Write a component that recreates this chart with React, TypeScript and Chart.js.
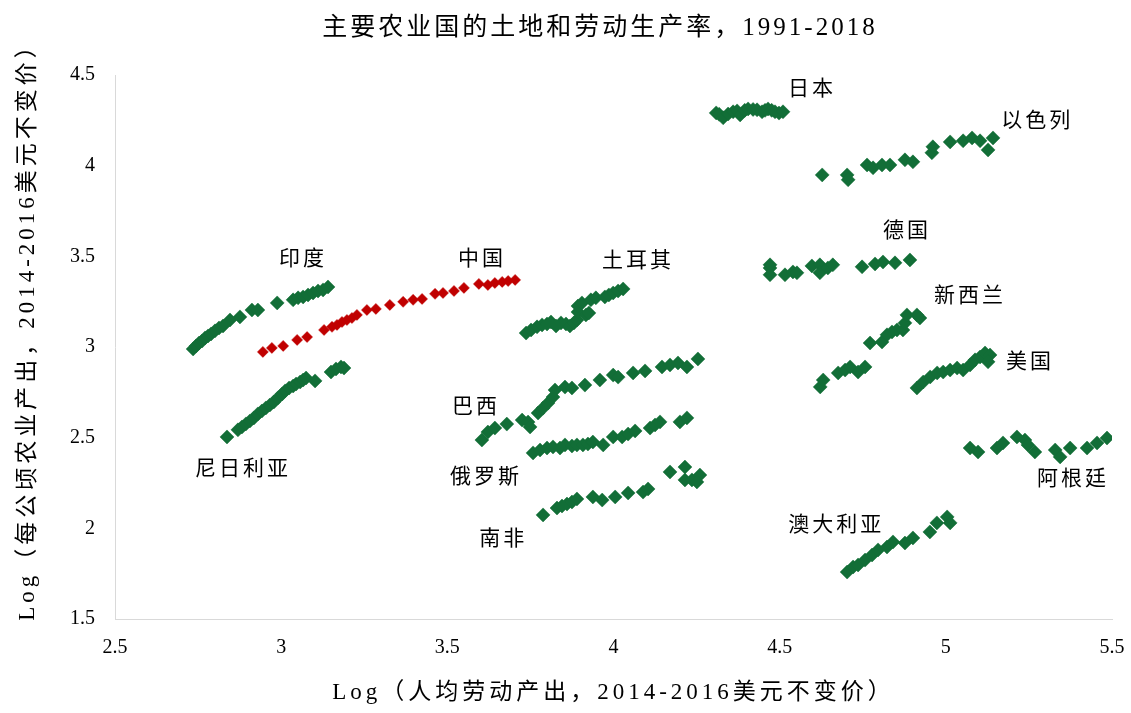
import React, { useEffect, useRef } from "react";
import { Chart, registerables } from "chart.js";

Chart.register(...registerables);

const FONT = "'Liberation Serif', 'Noto Sans CJK SC', serif";
const GREEN = "#126e37";
const RED = "#c00000";

const titleText = "主要农业国的土地和劳动生产率，1991-2018";
const xTitle = "Log（人均劳动产出，2014-2016美元不变价）";
const yTitle = "Log（每公顷农业产出，2014-2016美元不变价）";

const xTickValues = [2.5, 3, 3.5, 4, 4.5, 5, 5.5];
const xTickLabels = ["2.5", "3", "3.5", "4", "4.5", "5", "5.5"];
const yTickValues = [1.5, 2, 2.5, 3, 3.5, 4, 4.5];
const yTickLabels = ["1.5", "2", "2.5", "3", "3.5", "4", "4.5"];

// India
const indiaX = [2.735, 2.744, 2.753, 2.762, 2.771, 2.78, 2.789, 2.801, 2.813, 2.825, 2.846, 2.876, 2.912, 2.93, 2.988, 3.036, 3.051, 3.066, 3.081, 3.096, 3.111, 3.126, 3.141];
const indiaY = [2.989, 3.006, 3.022, 3.033, 3.05, 3.061, 3.072, 3.089, 3.105, 3.116, 3.149, 3.166, 3.204, 3.204, 3.243, 3.26, 3.271, 3.276, 3.287, 3.298, 3.309, 3.315, 3.331];

// China
const chinaX = [2.945, 2.972, 3.006, 3.048, 3.078, 3.129, 3.153, 3.168, 3.183, 3.198, 3.213, 3.228, 3.258, 3.285, 3.327, 3.367, 3.397, 3.424, 3.463, 3.487, 3.52, 3.55, 3.595, 3.622, 3.643, 3.665, 3.683, 3.704];
const chinaY = [2.973, 2.995, 3.006, 3.039, 3.055, 3.094, 3.111, 3.122, 3.138, 3.149, 3.16, 3.177, 3.204, 3.21, 3.232, 3.249, 3.26, 3.265, 3.293, 3.298, 3.309, 3.326, 3.348, 3.342, 3.353, 3.359, 3.364, 3.37];

// Nigeria
const nigeriaX = [2.837, 2.87, 2.882, 2.894, 2.906, 2.918, 2.93, 2.942, 2.954, 2.966, 2.978, 2.99, 3.003, 3.012, 3.024, 3.036, 3.045, 3.057, 3.066, 3.075, 3.102, 3.15, 3.165, 3.18, 3.189];
const nigeriaY = [2.504, 2.543, 2.559, 2.576, 2.592, 2.609, 2.631, 2.647, 2.664, 2.68, 2.697, 2.719, 2.741, 2.758, 2.774, 2.785, 2.796, 2.807, 2.818, 2.829, 2.813, 2.862, 2.879, 2.89, 2.884];

// Turkey
const turkeyX = [3.737, 3.752, 3.77, 3.785, 3.8, 3.812, 3.827, 3.842, 3.857, 3.869, 3.881, 3.89, 3.893, 3.893, 3.905, 3.917, 3.926, 3.932, 3.947, 3.974, 3.986, 3.999, 4.014, 4.029];
const turkeyY = [3.077, 3.094, 3.111, 3.122, 3.127, 3.138, 3.116, 3.133, 3.127, 3.116, 3.133, 3.149, 3.193, 3.226, 3.243, 3.177, 3.188, 3.26, 3.271, 3.276, 3.287, 3.298, 3.309, 3.32];

// Brazil
const brazilX = [3.604, 3.622, 3.643, 3.679, 3.725, 3.743, 3.749, 3.773, 3.788, 3.803, 3.818, 3.824, 3.854, 3.875, 3.914, 3.959, 3.999, 4.014, 4.059, 4.095, 4.146, 4.17, 4.194, 4.221, 4.254];
const brazilY = [2.487, 2.531, 2.553, 2.575, 2.597, 2.586, 2.559, 2.636, 2.663, 2.691, 2.724, 2.763, 2.779, 2.774, 2.79, 2.818, 2.845, 2.834, 2.857, 2.868, 2.89, 2.901, 2.912, 2.89, 2.934];

// Russia
const russiaX = [3.758, 3.779, 3.8, 3.818, 3.839, 3.854, 3.875, 3.89, 3.908, 3.923, 3.938, 3.969, 3.999, 4.026, 4.044, 4.065, 4.11, 4.125, 4.14, 4.2, 4.221];
const russiaY = [2.416, 2.432, 2.443, 2.449, 2.443, 2.46, 2.454, 2.46, 2.46, 2.465, 2.476, 2.46, 2.504, 2.504, 2.52, 2.537, 2.553, 2.57, 2.587, 2.587, 2.609];

// South Africa
const safricaX = [3.788, 3.83, 3.845, 3.86, 3.875, 3.89, 3.938, 3.966, 4.005, 4.044, 4.089, 4.104, 4.17, 4.215, 4.215, 4.236, 4.26, 4.251];
const safricaY = [2.074, 2.112, 2.123, 2.134, 2.145, 2.162, 2.173, 2.156, 2.173, 2.195, 2.2, 2.217, 2.311, 2.338, 2.267, 2.267, 2.294, 2.256];

// Japan
const japanX = [4.309, 4.318, 4.33, 4.345, 4.36, 4.372, 4.381, 4.395, 4.405, 4.42, 4.432, 4.447, 4.456, 4.465, 4.476, 4.486, 4.498, 4.51];
const japanY = [4.291, 4.283, 4.264, 4.285, 4.297, 4.302, 4.28, 4.305, 4.313, 4.31, 4.308, 4.297, 4.305, 4.313, 4.305, 4.297, 4.29, 4.297];

// Israel
const israelX = [4.628, 4.703, 4.706, 4.763, 4.781, 4.808, 4.832, 4.877, 4.901, 4.958, 4.961, 5.013, 5.052, 5.079, 5.103, 5.127, 5.142];
const israelY = [3.949, 3.949, 3.922, 4.004, 3.988, 4.004, 4.004, 4.032, 4.021, 4.071, 4.104, 4.131, 4.137, 4.153, 4.137, 4.087, 4.153];

// Germany
const germanyX = [4.471, 4.471, 4.471, 4.516, 4.54, 4.552, 4.597, 4.621, 4.621, 4.645, 4.66, 4.748, 4.787, 4.811, 4.847, 4.892];
const germanyY = [3.436, 3.398, 3.453, 3.398, 3.414, 3.409, 3.447, 3.453, 3.409, 3.436, 3.453, 3.442, 3.458, 3.469, 3.464, 3.48];

// New Zealand
const nzX = [4.622, 4.631, 4.676, 4.697, 4.712, 4.736, 4.757, 4.772, 4.808, 4.823, 4.838, 4.853, 4.871, 4.877, 4.883, 4.913, 4.922];
const nzY = [2.78, 2.818, 2.857, 2.873, 2.89, 2.862, 2.89, 3.022, 3.028, 3.067, 3.083, 3.094, 3.094, 3.133, 3.177, 3.177, 3.16];

// USA
const usaX = [4.913, 4.932, 4.953, 4.974, 4.992, 5.013, 5.034, 5.052, 5.073, 5.088, 5.103, 5.118, 5.133, 5.127];
const usaY = [2.774, 2.807, 2.835, 2.857, 2.862, 2.873, 2.884, 2.873, 2.901, 2.929, 2.945, 2.967, 2.956, 2.918];

// Argentina
const argentinaX = [5.073, 5.097, 5.154, 5.172, 5.214, 5.238, 5.247, 5.268, 5.329, 5.344, 5.374, 5.425, 5.455, 5.485];
const argentinaY = [2.443, 2.421, 2.443, 2.471, 2.504, 2.487, 2.46, 2.421, 2.432, 2.394, 2.443, 2.443, 2.471, 2.498];

// Australia
const australiaX = [4.703, 4.721, 4.736, 4.757, 4.778, 4.796, 4.823, 4.841, 4.877, 4.901, 4.952, 4.973, 5.004, 5.013];
const australiaY = [1.759, 1.787, 1.798, 1.825, 1.853, 1.881, 1.897, 1.925, 1.919, 1.947, 1.98, 2.03, 2.063, 2.03];

// Country labels (text anchored at data coordinates)
const labelTexts = ["印度", "中国", "土耳其", "日本", "以色列", "德国", "新西兰", "美国", "巴西", "俄罗斯", "南非", "尼日利亚", "澳大利亚", "阿根廷"];
const labelX = [3.066, 3.604, 4.074, 4.597, 5.275, 4.883, 5.073, 5.253, 3.586, 3.616, 3.668, 2.885, 4.67, 5.383];
const labelY = [3.48, 3.48, 3.469, 4.418, 4.241, 3.635, 3.276, 2.912, 2.669, 2.283, 1.936, 2.322, 2.018, 2.272];

const series = [
  { name: "印度", xs: indiaX, ys: indiaY, color: GREEN, r: 7 },
  { name: "中国", xs: chinaX, ys: chinaY, color: RED, r: 5.5 },
  { name: "尼日利亚", xs: nigeriaX, ys: nigeriaY, color: GREEN, r: 7 },
  { name: "土耳其", xs: turkeyX, ys: turkeyY, color: GREEN, r: 7 },
  { name: "巴西", xs: brazilX, ys: brazilY, color: GREEN, r: 7 },
  { name: "俄罗斯", xs: russiaX, ys: russiaY, color: GREEN, r: 7 },
  { name: "南非", xs: safricaX, ys: safricaY, color: GREEN, r: 7 },
  { name: "日本", xs: japanX, ys: japanY, color: GREEN, r: 7 },
  { name: "以色列", xs: israelX, ys: israelY, color: GREEN, r: 7 },
  { name: "德国", xs: germanyX, ys: germanyY, color: GREEN, r: 7 },
  { name: "新西兰", xs: nzX, ys: nzY, color: GREEN, r: 7 },
  { name: "美国", xs: usaX, ys: usaY, color: GREEN, r: 7 },
  { name: "阿根廷", xs: argentinaX, ys: argentinaY, color: GREEN, r: 7 },
  { name: "澳大利亚", xs: australiaX, ys: australiaY, color: GREEN, r: 7 },
];

const textPlugin = {
  id: "textLayer",
  afterDatasetsDraw(chart: any) {
    const { ctx, chartArea } = chart;
    const xs = chart.scales.x;
    const ys = chart.scales.y;
    ctx.save();
    ctx.fillStyle = "#000";
    ctx.textAlign = "center";
    ctx.textBaseline = "middle";
    // country labels
    ctx.font = `21px ${FONT}`;
    (ctx as any).letterSpacing = "3px";
    labelTexts.forEach((t, i) => {
      ctx.fillText(t, xs.getPixelForValue(labelX[i]), ys.getPixelForValue(labelY[i]));
    });
    // chart title
    ctx.font = `25px ${FONT}`;
    (ctx as any).letterSpacing = "3px";
    ctx.fillText(titleText, 600, 28);
    // axis titles
    ctx.font = `23px ${FONT}`;
    (ctx as any).letterSpacing = "4px";
    ctx.fillText(xTitle, (chartArea.left + chartArea.right) / 2, 693);
    ctx.save();
    ctx.translate(28, 326);
    ctx.rotate(-Math.PI / 2);
    ctx.fillText(yTitle, 0, 0);
    ctx.restore();
    ctx.restore();
  },
};

export default function App() {
  const ref = useRef<HTMLCanvasElement>(null);
  useEffect(() => {
    if (!ref.current) return;
    const chart = new Chart(ref.current, {
      type: "scatter",
      data: {
        datasets: series.map((s) => ({
          label: s.name,
          data: s.xs.map((x, i) => ({ x, y: s.ys[i] })),
          pointStyle: "rectRot",
          pointRadius: s.r,
          pointHoverRadius: s.r,
          backgroundColor: s.color,
          borderColor: s.color,
          borderWidth: 0.5,
        })),
      },
      options: {
        responsive: false,
        animation: false,
        layout: { padding: { left: 0, right: 19, top: 75, bottom: 0 } },
        plugins: {
          legend: { display: false },
          tooltip: { enabled: false },
          title: { display: false },
        },
        scales: {
          x: {
            type: "linear",
            min: xTickValues[0],
            max: xTickValues[xTickValues.length - 1],
            afterFit: (s: any) => {
              s.height = 94;
              s.paddingLeft = 0;
              s.paddingRight = 0;
            },
            afterBuildTicks: (s: any) => {
              s.ticks = xTickValues.map((v) => ({ value: v }));
            },
            grid: { display: false, drawTicks: false },
            border: { display: true, color: "#d9d9d9", width: 1 },
            ticks: {
              color: "#000",
              padding: 17,
              font: { family: FONT, size: 20 },
              callback: (v: any) => xTickLabels[xTickValues.indexOf(Number(v))] ?? String(v),
            },
            title: { display: false },
          },
          y: {
            type: "linear",
            min: yTickValues[0],
            max: yTickValues[yTickValues.length - 1],
            afterFit: (s: any) => {
              s.width = 115;
              s.paddingTop = 0;
              s.paddingBottom = 0;
            },
            afterBuildTicks: (s: any) => {
              s.ticks = yTickValues.map((v) => ({ value: v }));
            },
            grid: { display: false, drawTicks: false },
            border: { display: true, color: "#d9d9d9", width: 1 },
            ticks: {
              color: "#000",
              padding: 20,
              font: { family: FONT, size: 20 },
              callback: (v: any) => yTickLabels[yTickValues.indexOf(Number(v))] ?? String(v),
            },
            title: { display: false },
          },
        },
      },
      plugins: [textPlugin],
    });
    return () => chart.destroy();
  }, []);
  return (
    <div style={{ position: "absolute", left: 0, top: 0, width: 1131, height: 713, background: "#fff" }}>
      <canvas ref={ref} width={1131} height={713} />
    </div>
  );
}
